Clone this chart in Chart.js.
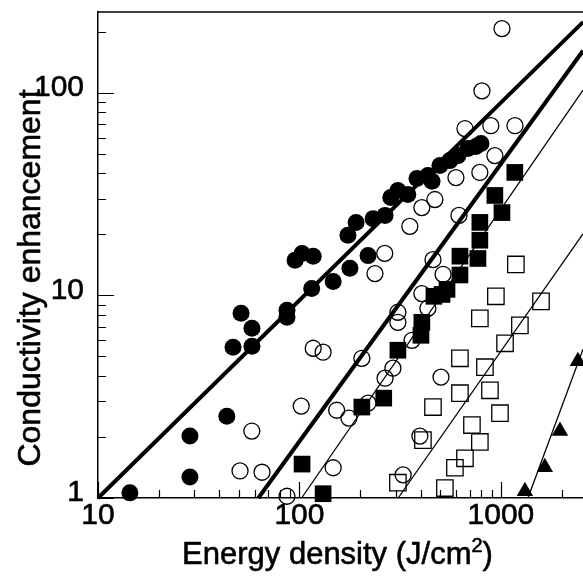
<!DOCTYPE html>
<html><head><meta charset="utf-8">
<script src="https://cdn.jsdelivr.net/npm/chart.js@4"></script>
<style>html,body{margin:0;padding:0;background:#fff}#wrap{width:583px;height:577px;position:relative}</style>
</head><body><div id="wrap"><canvas id="c"></canvas></div>
<script>
// ---- data ----
const filledCircleX = [14.4, 28.6, 28.6, 43.6, 46.8, 58.1, 58.1, 51.3, 86.7, 86.7, 95.1, 103, 117, 115, 147, 178, 219, 174, 191, 232, 266, 284, 308, 345, 383, 434, 455, 498, 558, 612, 686, 751, 796];
const filledCircleY = [1.06, 1.27, 2.02, 2.53, 5.55, 5.61, 6.88, 8.15, 8.44, 7.79, 14.9, 16.1, 15.6, 10.8, 11.7, 13.6, 15.7, 19.8, 22.9, 23.9, 24.8, 30.4, 32.9, 31.4, 37.7, 39.0, 36.5, 43.7, 46.2, 48.9, 53.0, 54.2, 56.1];

const openCircleX = [1012, 805, 663, 891, 1174, 933, 786, 598, 470, 405, 353, 265, 237, 619, 460, 516, 405, 308, 308, 434, 362, 117, 131, 204, 291, 266, 102, 153, 176, 219, 147, 86.7, 327, 396, 504, 58, 50.7, 65.2];
const openCircleY = [207, 102, 66.5, 68.7, 68.7, 48.9, 40.4, 38.1, 29.7, 27.1, 21.9, 16.1, 12.8, 24.8, 15.0, 12.7, 10.2, 8.25, 7.36, 8.63, 6.0, 5.48, 5.24, 4.89, 4.37, 3.90, 2.84, 2.71, 2.48, 2.94, 1.41, 1.02, 1.30, 2.02, 3.95, 2.14, 1.36, 1.34];

const filledSquareX = [1172, 933, 1012, 786, 786, 626, 769, 626, 510, 465, 540, 405, 401, 308, 262, 204, 103, 131];
const filledSquareY = [40.4, 31.1, 25.6, 22.9, 18.7, 15.6, 15.2, 12.6, 10.1, 9.89, 10.7, 7.36, 6.35, 5.36, 3.11, 2.81, 1.47, 1.05];

const openSquareX = [1186, 944, 1581, 786, 1242, 1048, 626, 833, 882, 626, 460, 989, 718, 786, 410, 663, 591, 308, 527];
const openSquareY = [14.2, 9.89, 9.34, 7.70, 7.11, 5.80, 4.89, 4.42, 3.40, 3.29, 2.81, 2.62, 2.29, 1.89, 1.93, 1.57, 1.41, 1.19, 1.12];

const triangleX = [1315, 1652, 1963, 2410];
const triangleY = [1.08, 1.42, 2.14, 4.73];

// fitted power-law lines (end points)
const fit1X = [10, 2555],   fit1Y = [1, 223];
const fit2X = [62.5, 2555], fit2Y = [1, 161];
const fit3X = [102.5, 2555],fit3Y = [1, 103];
const fit4X = [309, 2555],  fit4Y = [1, 20.1];
const fit5X = [1362, 2555], fit5Y = [1, 5.42];

// axes
const xMin = 10, xMax = 2555, yMin = 1, yMax = 250;
const xTickLabels = [10, 100, 1000];
const yTickLabels = [1, 10, 100];
const xTitle = 'Energy density (J/cm';
const xTitleSup = '2';
const xTitleEnd = ')';
const yTitle = 'Conductivity enhancement';

const FONT = '"Liberation Sans", Arial, sans-serif';

function pts(xs, ys){ return xs.map((x,i)=>({x, y: ys[i]})); }
function logTicks(min, max){
  const out = [];
  for (let d = 1; d <= 10000; d *= 10)
    for (let k = 1; k <= 9; k++){ const v = k*d; if (v >= min && v <= max) out.push(v); }
  return out;
}

function lineDs(xs, ys, w){
  return {data: pts(xs, ys), showLine: true, borderColor: '#000', borderWidth: w,
          pointRadius: 0, fill: false, clip: false, tension: 0};
}

function heavyText(ctx, t, x, y){
  ctx.fillText(t, x, y);
  ctx.strokeText(t, x, y);
}

const framePlugin = {
  id: 'frame',
  afterDraw(chart){
    const {ctx, chartArea: a, scales: {x, y}} = chart;
    ctx.save();
    ctx.strokeStyle = '#000';
    ctx.lineWidth = 1.5;
    ctx.beginPath();
    ctx.moveTo(a.left, a.top); ctx.lineTo(a.right, a.top);
    ctx.stroke();
    ctx.lineWidth = 1.2;
    ctx.beginPath();
    for (const v of logTicks(yMin, yMax)){
      const py = Math.round(y.getPixelForValue(v)) + 0.5;
      const len = yTickLabels.includes(v) ? 16 : 8;
      ctx.moveTo(a.left, py); ctx.lineTo(a.left + len, py);
    }
    for (const v of logTicks(xMin, xMax)){
      const px = Math.round(x.getPixelForValue(v)) + 0.5;
      const len = xTickLabels.includes(v) ? 16 : 8;
      ctx.moveTo(px, a.bottom); ctx.lineTo(px, a.bottom - len);
    }
    ctx.stroke();

    // axis titles
    ctx.fillStyle = '#000';
    ctx.strokeStyle = '#000';
    ctx.lineWidth = 0.6;
    ctx.textBaseline = 'alphabetic';
    const big = '31px ' + FONT, small = '20px ' + FONT;
    ctx.font = big; const w1 = ctx.measureText(xTitle).width; const w3 = ctx.measureText(xTitleEnd).width;
    ctx.font = small; const w2 = ctx.measureText(xTitleSup).width;
    const total = w1 + w2 + w3;
    let sx = 337.5 - total/2; const by = 564;
    ctx.textAlign = 'left';
    ctx.font = big; heavyText(ctx, xTitle, sx, by); sx += w1;
    ctx.font = small; heavyText(ctx, xTitleSup, sx, by - 12); sx += w2;
    ctx.font = big; heavyText(ctx, xTitleEnd, sx, by);
    ctx.save();
    ctx.translate(40, 278);
    ctx.rotate(-Math.PI/2);
    ctx.textAlign = 'center';
    ctx.font = '32px ' + FONT;
    heavyText(ctx, yTitle, 0, 0);
    ctx.restore();
    ctx.restore();
  }
};

new Chart(document.getElementById('c'), {
  type: 'scatter',
  data: {
    datasets: [
      lineDs(fit1X, fit1Y, 4),
      lineDs(fit2X, fit2Y, 4),
      lineDs(fit3X, fit3Y, 1.3),
      lineDs(fit4X, fit4Y, 1.3),
      lineDs(fit5X, fit5Y, 1.3),
      {data: pts(filledCircleX, filledCircleY), pointStyle: 'circle', pointRadius: 8.5,
       backgroundColor: '#000', borderColor: '#000', borderWidth: 0, clip: false},
      {data: pts(openCircleX, openCircleY), pointStyle: 'circle', pointRadius: 8,
       backgroundColor: 'rgba(0,0,0,0)', borderColor: '#000', borderWidth: 1.3, clip: false},
      {data: pts(filledSquareX, filledSquareY), pointStyle: 'rect', pointRadius: 11.8,
       backgroundColor: '#000', borderColor: '#000', borderWidth: 0, clip: false},
      {data: pts(openSquareX, openSquareY), pointStyle: 'rect', pointRadius: 11.6,
       backgroundColor: 'rgba(0,0,0,0)', borderColor: '#000', borderWidth: 1.3, clip: false},
      {data: pts(triangleX, triangleY), pointStyle: 'triangle', pointRadius: 9.5,
       backgroundColor: '#000', borderColor: '#000', borderWidth: 0, clip: false}
    ]
  },
  options: {
    responsive: true,
    maintainAspectRatio: false,
    animation: false,
    events: [],
    layout: {autoPadding: false, padding: {top: 12, right: 0, left: 0, bottom: 0}},
    plugins: {legend: {display: false}, tooltip: {enabled: false}},
    scales: {
      x: {
        type: 'logarithmic', min: xMin, max: xMax,
        grid: {display: false, drawTicks: false},
        border: {display: true, color: '#000', width: 1.5},
        ticks: {
          autoSkip: false, maxRotation: 0, padding: 0,
          color: '#000', font: {family: FONT, size: 30},
          textStrokeColor: '#000', textStrokeWidth: 0.6,
          callback: (v) => xTickLabels.includes(v) ? String(v) : ''
        },
        afterFit: (s) => { s.height = 79; s.paddingLeft = 0; s.paddingRight = 0; }
      },
      y: {
        type: 'logarithmic', min: yMin, max: yMax,
        grid: {display: false, drawTicks: false},
        border: {display: true, color: '#000', width: 1.5},
        ticks: {
          autoSkip: false, padding: 14, labelOffset: -5,
          color: '#000', font: {family: FONT, size: 30},
          textStrokeColor: '#000', textStrokeWidth: 0.6,
          callback: (v) => yTickLabels.includes(v) ? String(v) : ''
        },
        afterFit: (s) => { s.width = 98; s.paddingTop = 0; s.paddingBottom = 0; }
      }
    }
  },
  plugins: [framePlugin]
});
</script>
</body></html>
